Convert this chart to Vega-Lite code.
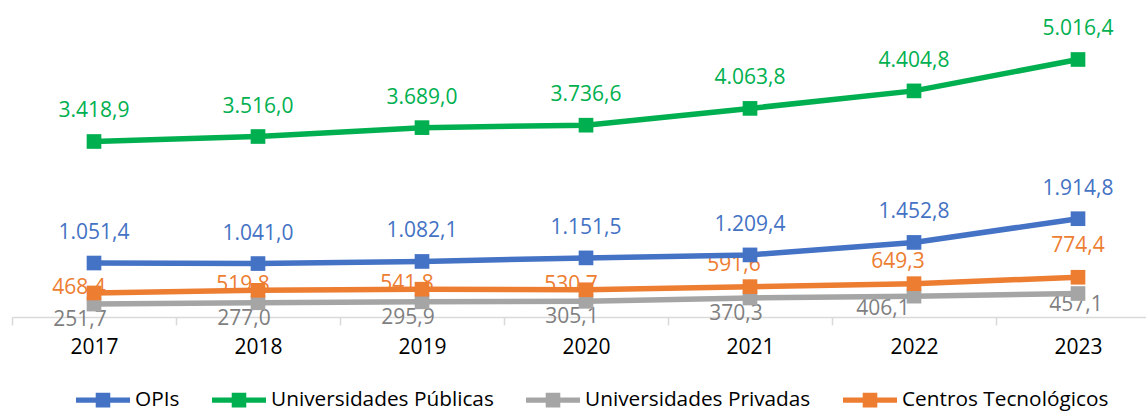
{
  "$schema": "https://vega.github.io/schema/vega-lite/v6.json",
  "width": 1134,
  "height": 308,
  "autosize": {"type": "none"},
  "padding": {"left": 12, "top": 9, "right": 0, "bottom": 95},
  "background": "#ffffff",
  "config": {
    "view": {"stroke": null},
    "font": "Open Sans",
    "locale": {"number": {"decimal": ",", "thousands": ".", "grouping": [3], "currency": ["", " €"]}}
  },
  "data": {
    "values": [
      {"year": "2017", "series": "OPIs", "value": 1051.4},
      {"year": "2018", "series": "OPIs", "value": 1041.0},
      {"year": "2019", "series": "OPIs", "value": 1082.1},
      {"year": "2020", "series": "OPIs", "value": 1151.5},
      {"year": "2021", "series": "OPIs", "value": 1209.4},
      {"year": "2022", "series": "OPIs", "value": 1452.8},
      {"year": "2023", "series": "OPIs", "value": 1914.8},
      {"year": "2017", "series": "Universidades Públicas", "value": 3418.9},
      {"year": "2018", "series": "Universidades Públicas", "value": 3516.0},
      {"year": "2019", "series": "Universidades Públicas", "value": 3689.0},
      {"year": "2020", "series": "Universidades Públicas", "value": 3736.6},
      {"year": "2021", "series": "Universidades Públicas", "value": 4063.8},
      {"year": "2022", "series": "Universidades Públicas", "value": 4404.8},
      {"year": "2023", "series": "Universidades Públicas", "value": 5016.4},
      {"year": "2017", "series": "Universidades Privadas", "value": 251.7},
      {"year": "2018", "series": "Universidades Privadas", "value": 277.0},
      {"year": "2019", "series": "Universidades Privadas", "value": 295.9},
      {"year": "2020", "series": "Universidades Privadas", "value": 305.1},
      {"year": "2021", "series": "Universidades Privadas", "value": 370.3},
      {"year": "2022", "series": "Universidades Privadas", "value": 406.1},
      {"year": "2023", "series": "Universidades Privadas", "value": 457.1},
      {"year": "2017", "series": "Centros Tecnológicos", "value": 468.4},
      {"year": "2018", "series": "Centros Tecnológicos", "value": 519.8},
      {"year": "2019", "series": "Centros Tecnológicos", "value": 541.8},
      {"year": "2020", "series": "Centros Tecnológicos", "value": 530.7},
      {"year": "2021", "series": "Centros Tecnológicos", "value": 591.6},
      {"year": "2022", "series": "Centros Tecnológicos", "value": 649.3},
      {"year": "2023", "series": "Centros Tecnológicos", "value": 774.4}
    ]
  },
  "encoding": {
    "x": {
      "field": "year",
      "type": "ordinal",
      "scale": {"type": "band", "paddingInner": 0, "paddingOuter": 0, "range": [0, 1148]},
      "axis": {
        "title": null,
        "labelAngle": 0,
        "labelFontSize": 21,
        "labelColor": "#000000",
        "labelPadding": 11,
        "domainColor": "#D9D9D9",
        "domainWidth": 1.5,
        "tickColor": "#D9D9D9",
        "tickWidth": 1.5,
        "tickSize": 8,
        "tickBand": "extent",
        "grid": false
      }
    },
    "y": {
      "field": "value",
      "type": "quantitative",
      "scale": {"domain": [0, 6000], "nice": false},
      "axis": null
    }
  },
  "layer": [
    {
      "transform": [{"filter": "datum.series === 'OPIs'"}],
      "mark": {"type": "text", "fontSize": 21, "dy": -24, "baseline": "alphabetic", "color": "#4472C4"},
      "encoding": {"text": {"field": "value", "type": "quantitative", "format": ",.1f"}}
    },
    {
      "transform": [{"filter": "datum.series === 'Universidades Públicas'"}],
      "mark": {"type": "text", "fontSize": 21, "dy": -24, "baseline": "alphabetic", "color": "#00B050"},
      "encoding": {"text": {"field": "value", "type": "quantitative", "format": ",.1f"}}
    },
    {
      "transform": [{"filter": "datum.series === 'Centros Tecnológicos' && datum.year <= '2020'"}],
      "mark": {"type": "text", "fontSize": 21, "dx": -15, "dy": 1, "baseline": "alphabetic", "color": "#ED7D31"},
      "encoding": {"text": {"field": "value", "type": "quantitative", "format": ",.1f"}}
    },
    {
      "transform": [{"filter": "datum.series === 'Centros Tecnológicos' && (datum.year === '2021' || datum.year === '2022')"}],
      "mark": {"type": "text", "fontSize": 21, "dx": -16, "dy": -16, "baseline": "alphabetic", "color": "#ED7D31"},
      "encoding": {"text": {"field": "value", "type": "quantitative", "format": ",.1f"}}
    },
    {
      "transform": [{"filter": "datum.series === 'Centros Tecnológicos' && datum.year === '2023'"}],
      "mark": {"type": "text", "fontSize": 21, "dx": 0, "dy": -25, "baseline": "alphabetic", "color": "#ED7D31"},
      "encoding": {"text": {"field": "value", "type": "quantitative", "format": ",.1f"}}
    },
    {
      "transform": [{"filter": "datum.series === 'Universidades Privadas' && datum.year <= '2021'"}],
      "mark": {"type": "text", "fontSize": 21, "dx": -14, "dy": 22, "baseline": "alphabetic", "color": "#7F7F7F"},
      "encoding": {"text": {"field": "value", "type": "quantitative", "format": ",.1f"}}
    },
    {
      "transform": [{"filter": "datum.series === 'Universidades Privadas' && datum.year === '2022'"}],
      "mark": {"type": "text", "fontSize": 21, "dx": -31, "dy": 19, "baseline": "alphabetic", "color": "#7F7F7F"},
      "encoding": {"text": {"field": "value", "type": "quantitative", "format": ",.1f"}}
    },
    {
      "transform": [{"filter": "datum.series === 'Universidades Privadas' && datum.year === '2023'"}],
      "mark": {"type": "text", "fontSize": 21, "dx": -2, "dy": 17, "baseline": "alphabetic", "color": "#7F7F7F"},
      "encoding": {"text": {"field": "value", "type": "quantitative", "format": ",.1f"}}
    },
    {
      "mark": {"type": "line", "strokeWidth": 5.5},
      "encoding": {
        "color": {
          "field": "series",
          "type": "nominal",
          "scale": {
            "domain": ["OPIs", "Universidades Públicas", "Universidades Privadas", "Centros Tecnológicos"],
            "range": ["#4472C4", "#00B050", "#A5A5A5", "#ED7D31"]
          },
          "legend": {
            "orient": "none",
            "legendX": 64,
            "legendY": 364,
            "direction": "horizontal",
            "title": null,
            "padding": 0,
            "labelFontSize": 20.8,
            "labelColor": "#000000",
            "labelLimit": 0,
            "labelOffset": 5,
            "columnPadding": 32,
            "symbolType": "M-1,-0.1H1V0.1H-1Z M-0.27,-0.27H0.27V0.27H-0.27Z",
            "symbolSize": 2916,
            "symbolStrokeWidth": 0,
            "encode": {"symbols": {"update": {"fill": {"scale": "color", "field": "value"}, "opacity": {"value": 1}}}}
          }
        }
      }
    },
    {
      "mark": {"type": "point", "shape": "square", "filled": true, "size": 215, "opacity": 1},
      "encoding": {
        "color": {"field": "series", "type": "nominal", "legend": null}
      }
    }
  ]
}
